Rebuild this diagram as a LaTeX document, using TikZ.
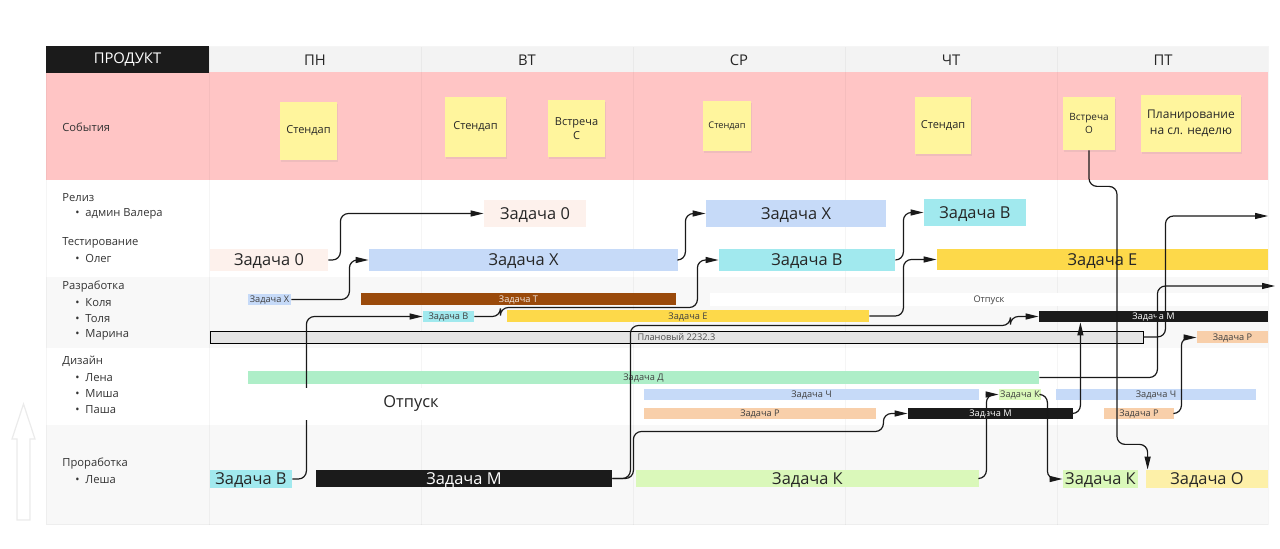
\documentclass[tikz,border=0pt]{standalone}
\usepackage{fontspec}
\setmainfont{Open Sans}
\usetikzlibrary{arrows.meta}
\usetikzlibrary{positioning, shadows}
\definecolor{eventpink}{HTML}{FFC5C5}
\definecolor{headgray}{HTML}{F3F3F3}
\definecolor{bandgray}{HTML}{F8F8F8}
\definecolor{darkcell}{HTML}{1B1B1B}
\definecolor{sticky}{HTML}{FFF59D}
\definecolor{taskpink}{HTML}{FDF1EC}
\definecolor{taskblue}{HTML}{C6DAF8}
\definecolor{taskcyan}{HTML}{A1E9EE}
\definecolor{taskyellow}{HTML}{FDD94A}
\definecolor{taskbrown}{HTML}{9A4A0B}
\definecolor{taskblack}{HTML}{1B1B1B}
\definecolor{taskgray}{HTML}{E4E4E4}
\definecolor{taskpeach}{HTML}{F8CFAA}
\definecolor{taskgreen}{HTML}{AEEEC8}
\definecolor{tasklime}{HTML}{DAF8BA}
\definecolor{taskcream}{HTML}{FDF0A8}
\definecolor{labeltext}{HTML}{333333}
\tikzset{
bar size/.style args = {#1,#2}{ minimum width = #1*0.5pt, minimum height = #2*0.5pt },
day head/.style = { text = black!85, font = \fontsize{7.4}{8}\selectfont },
lane label/.style = { anchor = west, text = labeltext, inner sep = 0pt, font = \fontsize{5.6}{7}\selectfont },
note/.style = { rectangle, fill = sticky, align = center, inner sep = 1pt, text = black!85, font = \fontsize{5.5}{7}\selectfont, drop shadow = {opacity = 0.12, shadow xshift = 0.4pt, shadow yshift = -0.8pt} },
big task/.style = { rectangle, inner sep = 0pt, text height = 5.9pt, text depth = 0pt, text = black!85, font = \fontsize{8.2}{9}\selectfont },
small task/.style = { rectangle, inner sep = 0pt, text height = 3.3pt, text depth = 0pt, text = black!75, font = \fontsize{4.6}{5}\selectfont },
link/.style = { draw = black!90, line width = 0.6pt, rounded corners = 4pt, -{Triangle[length = 6.5pt, width = 3pt]} },
}

\begin{document}
\begin{tikzpicture}[x = 0.5pt, y = -0.5pt]
\useasboundingbox (0,0) rectangle (1280,549);
% bands
\fill[headgray] (209,47) rectangle (1268,72);
\fill[eventpink] (46,72) rectangle (1268,180);
\fill[bandgray] (46,277) rectangle (1268,348);
\fill[bandgray] (46,425) rectangle (1268,525);
\foreach \x in {209, 421, 633, 845, 1057}
  \draw[black, opacity = 0.04, line width = 0.5pt] (\x,47) -- (\x,525);
\draw[black, opacity = 0.04, line width = 0.5pt] (46,47) rectangle (1268,525);
% side arrow
\draw[black!8, fill = white, line width = 0.6pt] (17,520) -- (17,439) -- (12,439) -- (23.5,404) -- (35,439) -- (30,439) -- (30,520) -- cycle;

% header
\node[fill = darkcell, text = white, bar size = {163,25}, font = \fontsize{7.4}{8}\selectfont] (prod) at (127.5,59.5) {ПРОДУКТ};
\node[day head] (mon head) at (315,60) {ПН};
\node[day head] (tue head) at (527,60) {ВТ};
\node[day head] (wed head) at (739,60) {СР};
\node[day head] (thu head) at (951,60) {ЧТ};
\node[day head] (fri head) at (1163,60) {ПТ};

% lanes
\node[lane label] (events) at (62,127) {События};
\node[lane label] (release) at (62,197.5) {Релиз};
\node[lane label] (valera) at (75,213.5) {•\ \ админ Валера};
\node[lane label] (testing) at (62,242.5) {Тестирование};
\node[lane label] (oleg) at (75,258.5) {•\ \ Олег};
\node[lane label] (dev) at (62,286.5) {Разработка};
\node[lane label] (kolya) at (75,302.5) {•\ \ Коля};
\node[lane label] (tolya) at (75,318.5) {•\ \ Толя};
\node[lane label] (marina) at (75,334.5) {•\ \ Марина};
\node[lane label] (design) at (62,361.5) {Дизайн};
\node[lane label] (lena) at (75,377.5) {•\ \ Лена};
\node[lane label] (misha) at (75,393.5) {•\ \ Миша};
\node[lane label] (pasha) at (75,409.5) {•\ \ Паша};
\node[lane label] (research) at (62,463.5) {Проработка};
\node[lane label] (lesha) at (75,479.5) {•\ \ Леша};

% events
\node[note, bar size = {57,58}] (mon) at (308.5,131) {Стендап};
\node[note, bar size = {61,60}] (tue1) at (475.5,127) {Стендап};
\node[note, bar size = {57,57}] (tue2) at (576.5,128.5) {Встреча\\С};
\node[note, bar size = {48,50}, font = \fontsize{4.6}{6}\selectfont] (wed) at (727,126) {Стендап};
\node[note, bar size = {56,57}] (thu) at (943,125.5) {Стендап};
\node[note, bar size = {52,53}, font = \fontsize{5}{6.6}\selectfont] (fri1) at (1089,123.5) {Встреча\\О};
\node[note, bar size = {100,57}, font = \fontsize{6}{7.8}\selectfont] (fri2) at (1191,123.5) {Планирование\\на сл. неделю};

% release
\node[big task, fill = taskpink, bar size = {102,27}] (r0) at (535,213.5) {Задача 0};
\node[big task, fill = taskblue, bar size = {180,27}] (rX) at (796,213.5) {Задача Х};
\node[big task, fill = taskcyan, bar size = {102,27}] (rB) at (975,212.5) {Задача В};
% testing
\node[big task, fill = taskpink, bar size = {118,22}] (t0) at (269,260) {Задача 0};
\node[big task, fill = taskblue, bar size = {309,22}] (tX) at (523.5,260) {Задача Х};
\node[big task, fill = taskcyan, bar size = {176,22}] (tB) at (807,260) {Задача В};
\node[big task, fill = taskyellow, bar size = {331,21}] (tE) at (1102.5,259.5) {Задача Е};
% development
\node[small task, fill = taskblue, bar size = {43,11}] (dX) at (269.5,299.5) {Задача Х};
\node[small task, fill = taskbrown, text = white!88!taskbrown, bar size = {315,12}] (dT) at (518.5,299) {Задача Т};
\node[small task, fill = white, bar size = {558,13}] (dOff) at (989,299.5) {Отпуск};
\node[small task, fill = taskcyan, bar size = {51,11}] (dB) at (448.5,316.5) {Задача В};
\node[small task, fill = taskyellow, bar size = {362,12}] (dE) at (688,316) {Задача Е};
\node[small task, fill = taskblack, text = white!80, bar size = {229,11}] (dM) at (1153.5,316.5) {Задача М};
\node[small task, fill = taskgray, draw = black, line width = 0.45pt, text = black!70, bar size = {933,12}] (plan) at (676.5,337) {Плановый 2232.3};
\node[small task, fill = taskpeach, bar size = {71,12}] (dP) at (1232.5,337.5) {Задача Р};
% design
\node[small task, fill = taskgreen, bar size = {791,13}] (desD) at (643.5,377.5) {Задача Д};
\node[small task, fill = taskblue, bar size = {335,11}] (desCh1) at (811.5,394.5) {Задача Ч};
\node[small task, fill = tasklime, bar size = {42,11}] (desK) at (1020,394.5) {Задача К};
\node[small task, fill = taskblue, bar size = {200,11}] (desCh2) at (1156,394.5) {Задача Ч};
\node[small task, fill = taskpeach, bar size = {232,11}] (desP1) at (760,413.5) {Задача Р};
\node[small task, fill = taskblack, text = white!80, bar size = {165,11}] (desM) at (990.5,413.5) {Задача М};
\node[small task, fill = taskpeach, bar size = {70,11}] (desP2) at (1139,413.5) {Задача Р};
% research
\node[big task, fill = taskcyan, bar size = {82,18}] (pB) at (251,479) {Задача В};
\node[big task, fill = taskblack, text = white!92, bar size = {296,17}] (pM) at (464,478.5) {Задача М};
\node[big task, fill = tasklime, bar size = {343,17}] (pK1) at (807.5,478.5) {Задача К};
\node[big task, fill = tasklime, bar size = {75,18}] (pK2) at (1100.5,479) {Задача К};
\node[big task, fill = taskcream, bar size = {122,18}] (pO) at (1207,479) {Задача О};

\coordinate (outE) at (1268,216);
\coordinate (outM) at (1275,286);

% links
\draw[link] (t0.east) -- ++(12,0) |- (r0.west);
\draw[link] (dX.east) -- ++(58,0) |- (tX.west);
\draw[link] (tX.east) -- ++(7,0) |- (rX.west);
\draw[link] (dB.east) -- ++(26,0) -- ++(0,-9) -- ++(197,0) |- (tB.west);
\draw[link] (tB.east) -- ++(8,0) |- (rB.west);
\draw[link] (dE.east) -- ++(34,0) |- (tE.west);
\draw[link] (pM.east) -- ++(18,0) -- ++(0,-153) -- ++(380,0) |- (dM.west);
\draw[link] (pM.east) -- ++(21,0) -- ++(0,-47) -- ++(250,0) |- (desM.west);
\draw[link] (desM.east) -- ++(7,0) coordinate (mUp) -- (mUp |- dM.south);
\draw[link] (plan.east) -- ++(22,0) |- (outE);
\draw[link] (desD.east) -- ++(118,0) |- (outM);
\draw[link] (desP2.east) -- ++(7,0) |- (dP.west);
\draw[link] (fri1.south) -- ++(0,36) -- ++(28,0) -- ++(0,258) -| ([xshift = 1pt]pO.north west);
\draw[link] (pK1.east) -- ++(7,0) |- (desK.west);
\draw[link] (desK.east) -- ++(6,0) |- (pK2.west);
\draw[link] (pB.east) -- ++(14,0) |- (dB.west);

\node[fill = white, bar size = {240,32}, inner sep = 0pt, text = black!85, font = \fontsize{8.2}{9}\selectfont] (leave) at (411,404) {Отпуск};
\end{tikzpicture}
\end{document}
